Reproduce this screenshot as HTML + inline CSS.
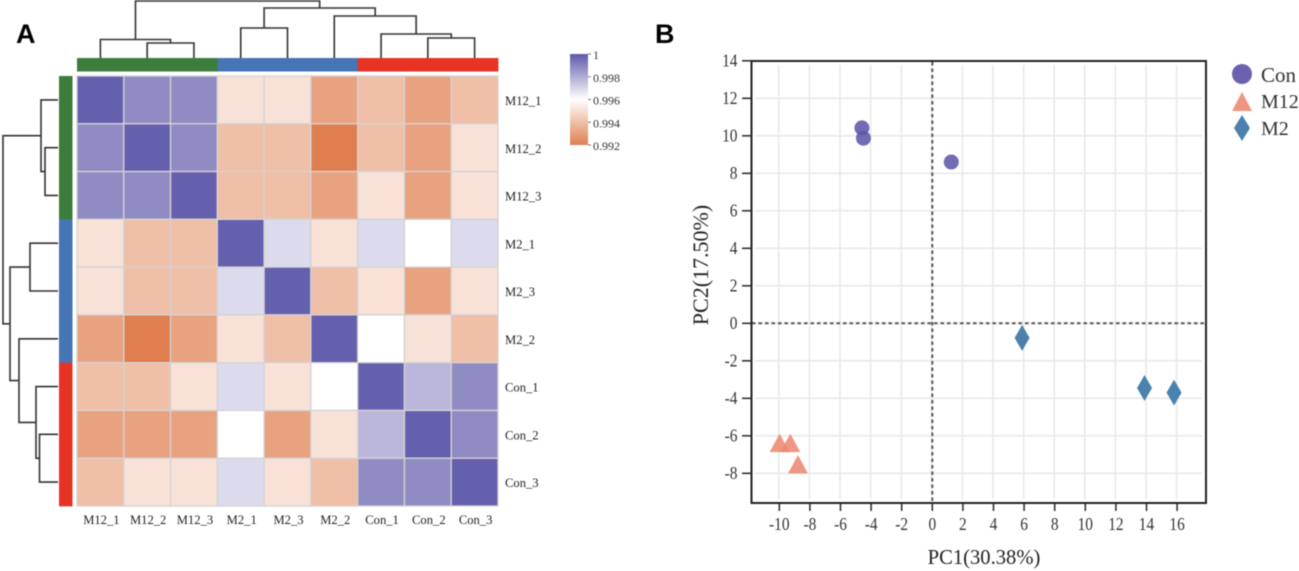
<!DOCTYPE html>
<html lang="en">
<head>
<meta charset="utf-8">
<title>Correlation heatmap and PCA plot</title>
<style>
html,body{margin:0;padding:0;background:#fff;width:1299px;height:571px;overflow:hidden}
svg{display:block;filter:blur(0.45px)}
text{font-family:"Liberation Serif",serif}
.panel{font-family:"Liberation Sans",sans-serif;font-weight:700;font-size:27px;fill:#000}
</style>
</head>
<body>
<svg id="figure" width="1299" height="571" viewBox="0 0 1299 571" xmlns="http://www.w3.org/2000/svg">
  <defs>
    <linearGradient id="cbGrad" x1="0" y1="0" x2="0" y2="1">
      <stop offset="0" stop-color="#5f5aaa"/>
      <stop offset="0.5" stop-color="#ffffff"/>
      <stop offset="1" stop-color="#df7f50"/>
    </linearGradient>
  </defs>
  <text class="panel" x="16" y="43">A</text>
  <text class="panel" x="655" y="43">B</text>

  <g id="topDendro" fill="none" stroke="#333" stroke-width="1.6"></g>
  <g id="leftDendro" fill="none" stroke="#333" stroke-width="1.6"></g>
  <g id="annotTop"></g>
  <g id="annotLeft"></g>
  <g id="heatmap"></g>
  <g id="rowLabels"></g>
  <g id="colLabels"></g>

  <rect x="570" y="54" width="18" height="91" fill="url(#cbGrad)"/>
  <g id="cbTicks"></g>

  <g id="grid"></g>
  <g id="zeroLines"></g>
  <g id="pcaTicks"></g>
  <rect x="751.5" y="61" width="454.5" height="442" fill="none" stroke="#222" stroke-width="2"/>
  <g id="points"></g>

  <text x="984" y="564" text-anchor="middle" font-size="20.6" fill="#222">PC1(30.38%)</text>
  <text transform="translate(708,265) rotate(-90)" text-anchor="middle" font-size="22" fill="#222">PC2(17.50%)</text>

  <g>
    <circle cx="1242" cy="74" r="10" fill="#6a62ae"/>
    <polygon points="1242,92 1252,111 1232,111" fill="#ee9580"/>
    <polygon points="1242,115 1250,128 1242,141 1234,128" fill="#4a82ad"/>
    <text x="1261" y="82" font-size="21" fill="#333">Con</text>
    <text x="1261" y="108" font-size="20" fill="#333">M12</text>
    <text x="1261" y="135" font-size="20" fill="#333">M2</text>
  </g>
</svg>
<script>
// ---- Heatmap data ----
const sampleLabels = ["M12_1","M12_2","M12_3","M2_1","M2_3","M2_2","Con_1","Con_2","Con_3"];
const rowM12_1 = [1,.9989,.9989,.9951,.9951,.9931,.9940,.9931,.9940];
const rowM12_2 = [.9989,1,.9989,.9940,.9940,.9920,.9940,.9931,.9951];
const rowM12_3 = [.9989,.9989,1,.9940,.9940,.9931,.9951,.9931,.9951];
const rowM2_1  = [.9951,.9940,.9940,1,.9969,.9951,.9969,.9960,.9969];
const rowM2_3  = [.9951,.9940,.9940,.9969,1,.9940,.9951,.9931,.9951];
const rowM2_2  = [.9931,.9920,.9931,.9951,.9940,1,.9960,.9951,.9940];
const rowCon_1 = [.9940,.9940,.9951,.9969,.9951,.9960,1,.9978,.9989];
const rowCon_2 = [.9931,.9931,.9931,.9960,.9931,.9951,.9978,1,.9989];
const rowCon_3 = [.9940,.9951,.9951,.9969,.9951,.9940,.9989,.9989,1];
const matrix = [rowM12_1,rowM12_2,rowM12_3,rowM2_1,rowM2_3,rowM2_2,rowCon_1,rowCon_2,rowCon_3];
const sampleGroups = ["g","g","g","b","b","b","r","r","r"];
const colorbarTicks = [1,0.998,0.996,0.994,0.992];
// Dendrogram merges: nodes 0-8 are leaves, each merge creates the next node id
const mergeA = [1,0,3,7,6,5,11,10];
const mergeB = [2,9,4,8,12,13,14,15];
const topHeights = [15,18.5,30,20,24,42,50,57];
const leftHeights = [13,17,28,18.5,22,39,48,55];

// ---- PCA data ----
const xTicks = [-10,-8,-6,-4,-2,0,2,4,6,8,10,12,14,16];
const yTicks = [-8,-6,-4,-2,0,2,4,6,8,10,12,14];
const conPC1 = [-4.6,-4.5,1.24];
const conPC2 = [10.42,9.87,8.6];
const m12PC1 = [-9.98,-9.28,-8.78];
const m12PC2 = [-6.39,-6.39,-7.53];
const m2PC1 = [5.87,13.87,15.8];
const m2PC2 = [-0.78,-3.45,-3.7];

// ---- Helpers ----
const NS = "http://www.w3.org/2000/svg";
function mk(parent, tag, props, txt){
  const el = document.createElementNS(NS, tag);
  for (const k in props) el.setAttribute(k, props[k]);
  if (txt !== undefined) el.textContent = txt;
  document.getElementById(parent).appendChild(el);
  return el;
}
const hmX = i => 77 + i * (421 / 9);
const hmY = i => 76 + i * (430 / 9);
const cbY = v => 54 + (1 - v) / 0.008 * 91;
const pcaX = v => 932.3 + v * 15.3;
const pcaY = v => 323.3 - v * 18.75;
function mix(a, b, t){
  return "rgb(" + a.map((c, i) => Math.round(c + (b[i] - c) * t)).join(",") + ")";
}
function heatColor(v){
  if (v >= 0.996) return mix([255,255,255],[101,96,173],(v - 0.996) / 0.004);
  return mix([255,255,255],[223,127,80],(0.996 - v) / 0.004);
}
const groupColors = {g:"#3c7d3c", b:"#4575b4", r:"#e63323"};

// ---- Heatmap ----
matrix.forEach((row, r) => {
  row.forEach((v, c) => {
    const el = mk("heatmap", "rect", {x:hmX(c), y:hmY(r), width:421/9, height:430/9, fill:heatColor(v), stroke:"#d6d2d4", "stroke-width":1.3});
    
    
  });
});
sampleLabels.forEach((s, i) => {
  const rowEl = mk("rowLabels", "text", {x:505, y:hmY(i) + 29, "font-size":12.6, fill:"#222"}, s);
  
  
  const colEl = mk("colLabels", "text", {x:hmX(i) + 421/18 + 1, y:524, "text-anchor":"middle", "font-size":12.6, fill:"#222"}, s);
  
  
  const topEl = mk("annotTop", "rect", {x:hmX(i), y:58, width:421/9 + 0.4, height:13.5, fill:groupColors[sampleGroups[i]]});
  
  
  const leftEl = mk("annotLeft", "rect", {x:59, y:hmY(i), width:13.5, height:430/9 + 0.4, fill:groupColors[sampleGroups[i]]});
  
  
});

// ---- Dendrograms ----
function dendrogram(parent, heights, leafPos, toPath){
  const pos = sampleLabels.map((_, i) => leafPos(i) );
  const hts = sampleLabels.map(() => 0);
  mergeA.forEach((a, m) => {
    const b = mergeB[m], h = heights[m];
    const el = mk(parent, "path", {d:toPath(pos[a], hts[a], pos[b], hts[b], h)});
    
    
    pos.push((pos[a] + pos[b]) / 2);
    hts.push(h);
  });
}
dendrogram("topDendro", topHeights, i => hmX(i) + 421/18,
  (p1, h1, p2, h2, h) => `M${p1} ${58-h1}V${58-h}H${p2}V${58-h2}`);
dendrogram("leftDendro", leftHeights, i => hmY(i) + 430/18,
  (p1, h1, p2, h2, h) => `M${58-h1} ${p1}H${58-h}V${p2}H${58-h2}`);

// ---- Colorbar ticks ----
colorbarTicks.forEach(v => {
  const tick = mk("cbTicks", "line", {x1:588, x2:591, y1:cbY(v), y2:cbY(v), stroke:"#777", "stroke-width":1});
  
  
  const label = mk("cbTicks", "text", {x:593, y:cbY(v) + 5, "font-size":12, fill:"#333"}, String(v));
  
  
});

// ---- PCA grid and ticks ----
xTicks.forEach(v => {
  const g = mk("grid", "line", {x1:pcaX(v) - 0.5, x2:pcaX(v) - 0.5, y1:65, y2:499, stroke:"#e9e9e9", "stroke-width":1.6});
  
  
  const t = mk("pcaTicks", "line", {x1:pcaX(v), x2:pcaX(v), y1:503, y2:511, stroke:"#333", "stroke-width":1.6});
  
  
  const l = mk("pcaTicks", "text", {transform:`translate(${pcaX(v)},530) scale(0.88,1)`, "text-anchor":"middle", "font-size":17.5, fill:"#333"}, String(v));
  
  
});
yTicks.forEach(v => {
  if (v !== 14) {
    const g = mk("grid", "line", {x1:755, x2:1202, y1:pcaY(v), y2:pcaY(v), stroke:"#e9e9e9", "stroke-width":1.6});
    
    
  }
  const t = mk("pcaTicks", "line", {x1:742, x2:751, y1:pcaY(v), y2:pcaY(v), stroke:"#333", "stroke-width":1.6});
  
  
  const l = mk("pcaTicks", "text", {transform:`translate(737.5,${pcaY(v) + 5.8}) scale(0.88,1)`, "text-anchor":"end", "font-size":17.5, fill:"#333"}, String(v));
  
  
});
const zeroH = mk("zeroLines", "line", {x1:752, x2:1205, y1:pcaY(0), y2:pcaY(0), stroke:"#555", "stroke-width":2, "stroke-dasharray":"3.5 3"});


const zeroV = mk("zeroLines", "line", {x1:pcaX(0), x2:pcaX(0), y1:62, y2:502, stroke:"#555", "stroke-width":2, "stroke-dasharray":"3.5 3"});



// ---- PCA points ----
conPC1.forEach((v, i) => {
  const el = mk("points", "circle", {cx:pcaX(v), cy:pcaY(conPC2[i]), r:7.5, fill:"#6058aa", "fill-opacity":.88});
  
  
});
m12PC1.forEach((v, i) => {
  const x = pcaX(v), y = pcaY(m12PC2[i]);
  const el = mk("points", "polygon", {points:`${x},${y-9.5} ${x+10},${y+9} ${x-10},${y+9}`, fill:"#ec8a72", "fill-opacity":.88});
  
  
});
m2PC1.forEach((v, i) => {
  const x = pcaX(v), y = pcaY(m2PC2[i]);
  const el = mk("points", "polygon", {points:`${x},${y-13} ${x+7.5},${y} ${x},${y+13} ${x-7.5},${y}`, fill:"#4a82ad"});
  
  
});
</script>
</body>
</html>
